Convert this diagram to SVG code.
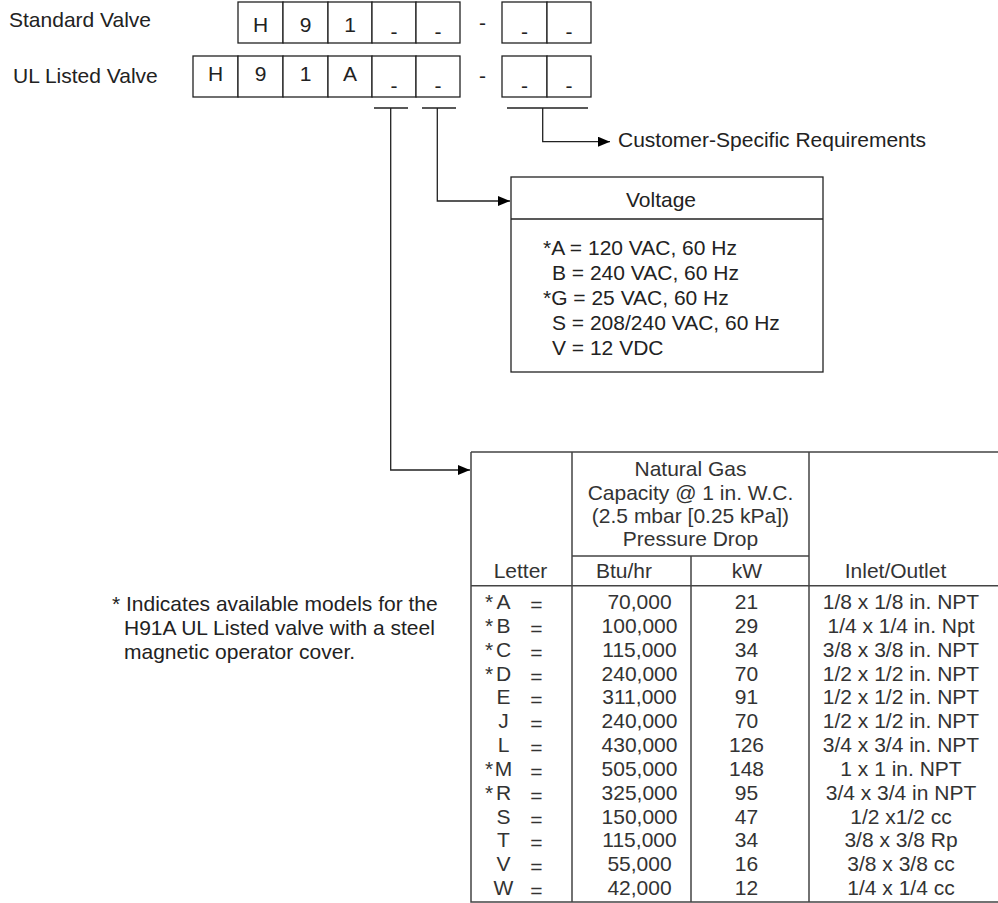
<svg xmlns="http://www.w3.org/2000/svg" width="998" height="903" viewBox="0 0 998 903">
<style>
text { font-family: "Liberation Sans", Arial, Helvetica, sans-serif; font-size: 21px; fill: #222; }
.c { text-anchor: middle; }
.box { fill: #fff; stroke: #222; stroke-width: 1.3; }
.ln { fill: none; stroke: #222; stroke-width: 1.3; }
.tb { fill: none; stroke: #444; stroke-width: 1.5; }
.t { fill: #333; }
</style>
<defs>
<marker id="ah" markerWidth="12" markerHeight="10" refX="12" refY="5" orient="auto" markerUnits="userSpaceOnUse"><path d="M0,0 L12,5 L0,10 Z" fill="#000"/></marker>
</defs>
<rect width="998" height="903" fill="#fff"/>

<g id="labels">
<text x="9" y="27">Standard Valve</text>
<text x="13" y="83">UL Listed Valve</text>
</g>

<g id="code-standard">
<rect class="box" x="238" y="2" width="45" height="41"/>
<rect class="box" x="283" y="2" width="45" height="41"/>
<rect class="box" x="328" y="2" width="44" height="41"/>
<rect class="box" x="372" y="2" width="44" height="41"/>
<rect class="box" x="416" y="2" width="44" height="41"/>
<rect class="box" x="502" y="2" width="45" height="41"/>
<rect class="box" x="547" y="2" width="44" height="41"/>
<text class="c" x="260.5" y="32">H</text>
<text class="c" x="305.5" y="32">9</text>
<text class="c" x="350" y="32">1</text>
<text class="c" x="394" y="39">-</text>
<text class="c" x="438" y="39">-</text>
<text class="c" x="482.5" y="29.5">-</text>
<text class="c" x="524.5" y="39">-</text>
<text class="c" x="569" y="39">-</text>
</g>

<g id="code-ul">
<rect class="box" x="193" y="56" width="45" height="41"/>
<rect class="box" x="238" y="56" width="45" height="41"/>
<rect class="box" x="283" y="56" width="45" height="41"/>
<rect class="box" x="328" y="56" width="44" height="41"/>
<rect class="box" x="372" y="56" width="44" height="41"/>
<rect class="box" x="416" y="56" width="44" height="41"/>
<rect class="box" x="502" y="56" width="45" height="41"/>
<rect class="box" x="547" y="56" width="44" height="41"/>
<text class="c" x="215.5" y="81">H</text>
<text class="c" x="260.5" y="81">9</text>
<text class="c" x="305.5" y="81">1</text>
<text class="c" x="350" y="81">A</text>
<text class="c" x="394" y="93">-</text>
<text class="c" x="438" y="93">-</text>
<text class="c" x="482.5" y="83">-</text>
<text class="c" x="524.5" y="93">-</text>
<text class="c" x="569" y="93">-</text>
</g>

<g id="connectors">
<path class="ln" d="M374,108 H408 M422,108 H456 M507,108 H588"/>
<path class="ln" d="M390.7,108 V470 H470" marker-end="url(#ah)"/>
<path class="ln" d="M437.3,108 V201 H510" marker-end="url(#ah)"/>
<path class="ln" d="M542.7,108 V141.7 H610" marker-end="url(#ah)"/>
</g>

<g id="customer">
<text x="618" y="147">Customer-Specific Requirements</text>
</g>

<g id="voltage">
<rect class="box" x="511" y="177" width="312" height="195"/>
<line class="ln" x1="511" y1="219" x2="823" y2="219"/>
<text class="c" x="661" y="207">Voltage</text>
<text x="543" y="255">*A = 120 VAC, 60 Hz</text>
<text x="552" y="280">B = 240 VAC, 60 Hz</text>
<text x="543" y="305">*G = 25 VAC, 60 Hz</text>
<text x="552" y="330">S = 208/240 VAC, 60 Hz</text>
<text x="552" y="355">V = 12 VDC</text>
</g>

<g id="table">
<path class="tb" d="M471,452 H998 M471,452 V902 H998 M572,452 V902 M809,452 V902 M691,556 V902 M572,556 H809 M471,585.7 H998"/>
<g class="t">
<text class="c t" x="690.5" y="476">Natural Gas</text>
<text class="c t" x="690.5" y="499.5">Capacity @ 1 in. W.C.</text>
<text class="c t" x="690.5" y="523">(2.5 mbar [0.25 kPa])</text>
<text class="c t" x="690.5" y="546">Pressure Drop</text>
<text class="c t" x="520.5" y="578">Letter</text>
<text class="c t" x="624" y="578">Btu/hr</text>
<text class="c t" x="747" y="578">kW</text>
<text class="c t" x="895.5" y="578">Inlet/Outlet</text>
</g>
<g id="rows">
<text class="t" x="485" y="609">*</text><text class="c t" x="503.5" y="609">A</text><text class="c t" x="536.5" y="612">=</text><text class="c t" x="639.5" y="609">70,000</text><text class="c t" x="746.5" y="609">21</text><text class="c t" x="901" y="609">1/8 x 1/8 in. NPT</text>
<text class="t" x="485" y="632.8">*</text><text class="c t" x="503.5" y="632.8">B</text><text class="c t" x="536.5" y="635.8">=</text><text class="c t" x="639.5" y="632.8">100,000</text><text class="c t" x="746.5" y="632.8">29</text><text class="c t" x="901" y="632.8">1/4 x 1/4 in. Npt</text>
<text class="t" x="485" y="656.7">*</text><text class="c t" x="503.5" y="656.7">C</text><text class="c t" x="536.5" y="659.7">=</text><text class="c t" x="639.5" y="656.7">115,000</text><text class="c t" x="746.5" y="656.7">34</text><text class="c t" x="901" y="656.7">3/8 x 3/8 in. NPT</text>
<text class="t" x="485" y="680.5">*</text><text class="c t" x="503.5" y="680.5">D</text><text class="c t" x="536.5" y="683.5">=</text><text class="c t" x="639.5" y="680.5">240,000</text><text class="c t" x="746.5" y="680.5">70</text><text class="c t" x="901" y="680.5">1/2 x 1/2 in. NPT</text>
<text class="c t" x="503.5" y="704.3">E</text><text class="c t" x="536.5" y="707.3">=</text><text class="c t" x="639.5" y="704.3">311,000</text><text class="c t" x="746.5" y="704.3">91</text><text class="c t" x="901" y="704.3">1/2 x 1/2 in. NPT</text>
<text class="c t" x="503.5" y="728.2">J</text><text class="c t" x="536.5" y="731.2">=</text><text class="c t" x="639.5" y="728.2">240,000</text><text class="c t" x="746.5" y="728.2">70</text><text class="c t" x="901" y="728.2">1/2 x 1/2 in. NPT</text>
<text class="c t" x="503.5" y="752">L</text><text class="c t" x="536.5" y="755">=</text><text class="c t" x="639.5" y="752">430,000</text><text class="c t" x="746.5" y="752">126</text><text class="c t" x="901" y="752">3/4 x 3/4 in. NPT</text>
<text class="t" x="485" y="775.8">*</text><text class="c t" x="503.5" y="775.8">M</text><text class="c t" x="536.5" y="778.8">=</text><text class="c t" x="639.5" y="775.8">505,000</text><text class="c t" x="746.5" y="775.8">148</text><text class="c t" x="901" y="775.8">1 x 1 in. NPT</text>
<text class="t" x="485" y="799.6">*</text><text class="c t" x="503.5" y="799.6">R</text><text class="c t" x="536.5" y="802.6">=</text><text class="c t" x="639.5" y="799.6">325,000</text><text class="c t" x="746.5" y="799.6">95</text><text class="c t" x="901" y="799.6">3/4 x 3/4 in NPT</text>
<text class="c t" x="503.5" y="823.5">S</text><text class="c t" x="536.5" y="826.5">=</text><text class="c t" x="639.5" y="823.5">150,000</text><text class="c t" x="746.5" y="823.5">47</text><text class="c t" x="901" y="823.5">1/2 x1/2 cc</text>
<text class="c t" x="503.5" y="847.3">T</text><text class="c t" x="536.5" y="850.3">=</text><text class="c t" x="639.5" y="847.3">115,000</text><text class="c t" x="746.5" y="847.3">34</text><text class="c t" x="901" y="847.3">3/8 x 3/8 Rp</text>
<text class="c t" x="503.5" y="871.1">V</text><text class="c t" x="536.5" y="874.1">=</text><text class="c t" x="639.5" y="871.1">55,000</text><text class="c t" x="746.5" y="871.1">16</text><text class="c t" x="901" y="871.1">3/8 x 3/8 cc</text>
<text class="c t" x="503.5" y="895">W</text><text class="c t" x="536.5" y="898">=</text><text class="c t" x="639.5" y="895">42,000</text><text class="c t" x="746.5" y="895">12</text><text class="c t" x="901" y="895">1/4 x 1/4 cc</text>
</g>
</g>

<g id="note">
<text x="112" y="611">* Indicates available models for the</text>
<text x="124" y="635">H91A UL Listed valve with a steel</text>
<text x="124" y="659">magnetic operator cover.</text>
</g>
</svg>
